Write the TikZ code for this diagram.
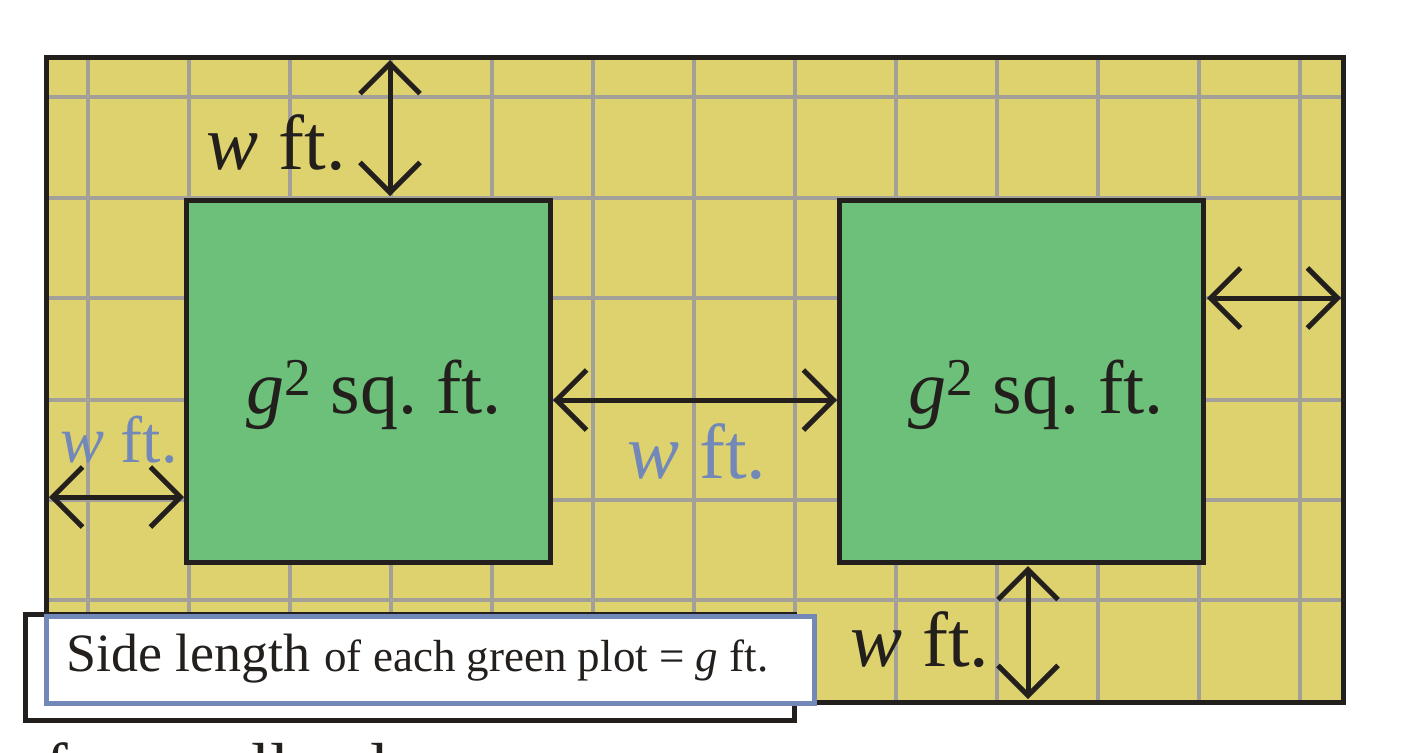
\documentclass[tikz,border=0pt]{standalone}
\usepackage{fontspec}
\setmainfont{Liberation Serif}
\usetikzlibrary{arrows.meta}
\definecolor{yel}{HTML}{DED26F}
\definecolor{grd}{HTML}{A3A09A}
\definecolor{grn}{HTML}{6CC07A}
\definecolor{blu}{HTML}{7288B8}
\definecolor{ink}{HTML}{231F1C}
\begin{document}
\begin{tikzpicture}[x=0.5pt,y=-0.5pt,
  plot/.style={draw=ink,line width=2.5pt,fill=grn},
  dim/.style={draw=ink,line width=2.5pt,{Straight Barb[length=15pt,width=30pt,line width=2.5pt]}-{Straight Barb[length=15pt,width=30pt,line width=2.5pt]}},
  big/.style={font=\fontsize{38}{40}\selectfont,text=ink,inner sep=0pt},
  lab/.style={font=\fontsize{39}{40}\selectfont,inner sep=0pt}]
\useasboundingbox (0,0) rectangle (1414,752);
\clip (0,0) rectangle (1414,752);
\fill[white] (0,0) rectangle (1414,752);
\node[fill=yel,minimum width=648pt,minimum height=322pt,inner sep=0pt] (field) at (695,380) {};
\foreach \x in {88,189,290,391,492,593,694,795,896,997,1098,1199,1300}
  \draw[grd,line width=2pt] (\x,58) -- (\x,702);
\foreach \y in {97,198,298,400,500,600}
  \draw[grd,line width=2pt] (47,\y) -- (1343,\y);
\draw[ink,line width=2.5pt] (field.north west) rectangle (field.south east);
\node[plot,minimum width=182pt,minimum height=181pt,inner sep=0pt] (p1) at (368,381) {};
\node[plot,minimum width=182pt,minimum height=181pt,inner sep=0pt] (p2) at (1021,381) {};
\node[big] (t1) at (374,395) {\textit{g}\textsuperscript{2} sq.\ ft.};
\node[big] (t2) at (1036,395) {\textit{g}\textsuperscript{2} sq.\ ft.};
% arrows
\coordinate (a1) at (390,60); \coordinate (a2) at (390,196);
\draw[dim] (a1) -- (a2);
\node[lab,text=ink,anchor=east] (l1) at (346,143) {\textit{w} ft.};
\coordinate (b1) at (1207,298); \coordinate (b2) at (1341,298);
\draw[dim] (b1) -- (b2);
\coordinate (c1) at (553,400); \coordinate (c2) at (837,400);
\draw[dim] (c1) -- (c2);
\node[lab,text=blu] (l3) at (697,452) {\textit{w} ft.};
\coordinate (d1) at (49,497); \coordinate (d2) at (184,497);
\draw[dim] (d1) -- (d2);
\node[lab,text=blu,font=\fontsize{33}{35}\selectfont] (l4) at (119,440) {\textit{w} ft.};
\coordinate (e1) at (1028,566); \coordinate (e2) at (1028,699);
\draw[dim] (e1) -- (e2);
\node[lab,text=ink] (l5) at (920,640) {\textit{w} ft.};
% legend
\draw[ink,line width=2.5pt,fill=white] (25,614) rectangle (794,720);
\draw[blu,line width=2.5pt,fill=white] (46,616) rectangle (814,703);
\node[anchor=west,inner sep=0pt,text=ink] (leg) at (66,659) {\fontsize{27}{29}\selectfont Side length \fontsize{22.5}{24}\selectfont of each green plot = \textit{g} ft.};
\node[anchor=base west,inner sep=0pt,text=ink,font=\fontsize{34}{36}\selectfont] (more) at (45,790) {for small values};
\end{tikzpicture}
\end{document}
